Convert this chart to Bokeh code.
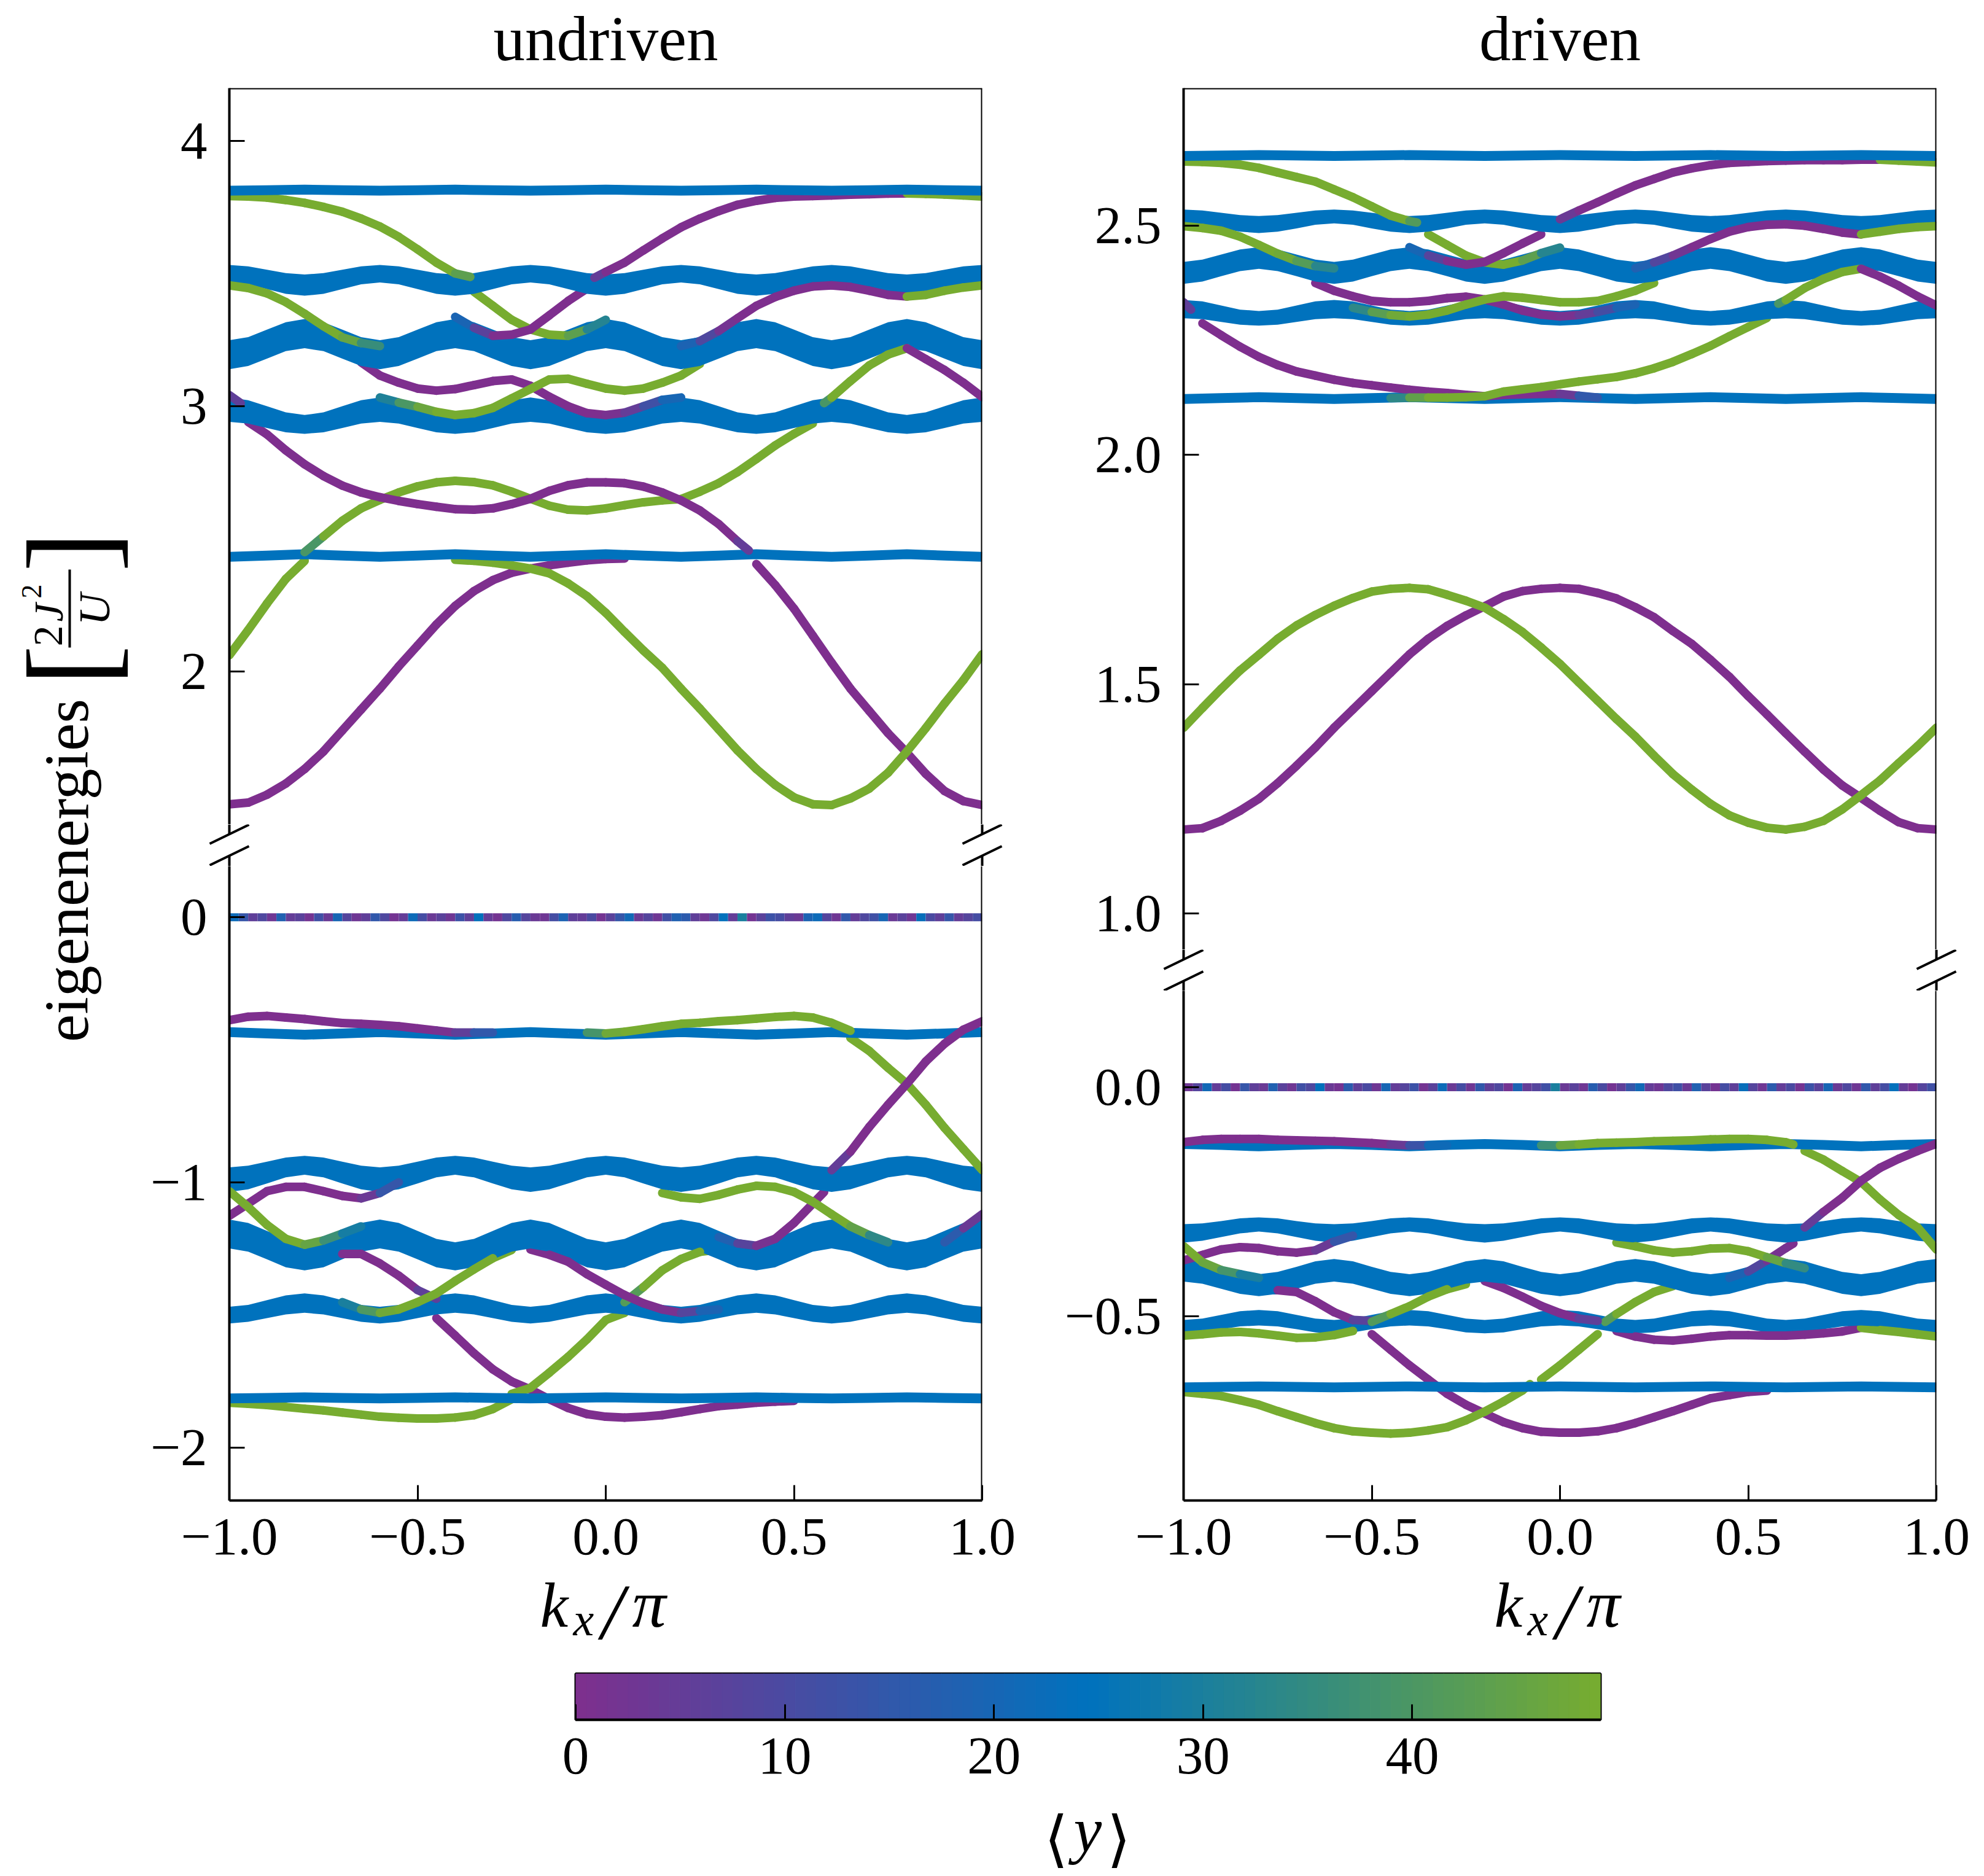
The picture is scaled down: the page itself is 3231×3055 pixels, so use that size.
from bokeh.embed import file_html
from bokeh.layouts import column, row
from bokeh.models import ColumnDataSource, FixedTicker, Label, LinearColorMapper, Range1d, Span
from bokeh.plotting import figure
from bokeh.resources import INLINE
import numpy as np

def span(a, b):
    return [round(a + 0.05 * i, 2) for i in range(int(round((b - a) / 0.05)) + 1)]

K = span(-1, 1)
K10 = [round(-1 + 0.1 * i, 1) for i in range(21)]

# colorbar
cb_ticks = [0, 10, 20, 30, 40]
cb_max = 49

# ---- undriven, upper part: thick bands (top and bottom edge)
lu_a_top = [3.533,3.528,3.515,3.502,3.497,3.502,3.515,3.528,3.533,3.528,3.515,3.502,3.497,3.502,3.515,3.528,3.533,3.528,3.515,3.502,3.497,3.502,3.515,3.528,3.533,3.528,3.515,3.502,3.497,3.502,3.515,3.528,3.533,3.528,3.515,3.502,3.497,3.502,3.515,3.528,3.533]
lu_a_bot = [3.467,3.460,3.442,3.424,3.417,3.424,3.442,3.460,3.467,3.460,3.442,3.424,3.417,3.424,3.442,3.460,3.467,3.460,3.442,3.424,3.417,3.424,3.442,3.460,3.467,3.460,3.442,3.424,3.417,3.424,3.442,3.460,3.467,3.460,3.442,3.424,3.417,3.424,3.442,3.460,3.467]
lu_b_top = [3.249,3.261,3.289,3.317,3.329,3.317,3.289,3.261,3.249,3.261,3.289,3.317,3.329,3.317,3.289,3.261,3.249,3.261,3.289,3.317,3.329,3.317,3.289,3.261,3.249,3.261,3.289,3.317,3.329,3.317,3.289,3.261,3.249,3.261,3.289,3.317,3.329,3.317,3.289,3.261,3.249]
lu_b_bot = [3.140,3.152,3.180,3.208,3.219,3.208,3.180,3.152,3.140,3.152,3.180,3.208,3.219,3.208,3.180,3.152,3.140,3.152,3.180,3.208,3.219,3.208,3.180,3.152,3.140,3.152,3.180,3.208,3.219,3.208,3.180,3.152,3.140,3.152,3.180,3.208,3.219,3.208,3.180,3.152,3.140]
lu_c_top = [3.033,3.023,3.000,2.977,2.967,2.977,3.000,3.023,3.033,3.023,3.000,2.977,2.967,2.977,3.000,3.023,3.033,3.023,3.000,2.977,2.967,2.977,3.000,3.023,3.033,3.023,3.000,2.977,2.967,2.977,3.000,3.023,3.033,3.023,3.000,2.977,2.967,2.977,3.000,3.023,3.033]
lu_c_bot = [2.941,2.935,2.918,2.902,2.896,2.902,2.918,2.935,2.941,2.935,2.918,2.902,2.896,2.902,2.918,2.935,2.941,2.935,2.918,2.902,2.896,2.902,2.918,2.935,2.941,2.935,2.918,2.902,2.896,2.902,2.918,2.935,2.941,2.935,2.918,2.902,2.896,2.902,2.918,2.935,2.941]
# flat bands
lu_f1 = [3.813,3.815,3.817,3.815,3.813,3.815,3.817,3.815,3.813,3.815,3.817,3.815,3.813,3.815,3.817,3.815,3.813,3.815,3.817,3.815,3.813]
lu_f2 = [2.432,2.437,2.442,2.437,2.432,2.437,2.442,2.437,2.432,2.437,2.442,2.437,2.432,2.437,2.442,2.437,2.432,2.437,2.442,2.437,2.432]
# edge states: k, energy, <y>
lu_g1a = (span(-1,-.4)+[-.36], [3.793,3.791,3.787,3.778,3.767,3.752,3.734,3.708,3.678,3.639,3.592,3.542,3.501,3.488], [49]*13+[38])
lu_g1b = (span(-.35,0), [3.432,3.379,3.326,3.290,3.270,3.266,3.290,3.326], [49]*6+[38,26])
lu_p1a = ([-.03]+span(0,.8), [3.485,3.507,3.542,3.588,3.633,3.675,3.708,3.736,3.760,3.775,3.786,3.791,3.793,3.795,3.798,3.800,3.802,3.803], [10]+[0]*17)
lu_g1c = (span(.8,1), [3.803,3.801,3.799,3.795,3.791], [49]*5)
lu_p1b = (span(-.4,-.05), [3.337,3.296,3.266,3.270,3.290,3.343,3.397,3.444], [25,14]+[0]*6)
lu_g2a = (span(-1,-.6), [3.456,3.446,3.426,3.393,3.349,3.302,3.260,3.239,3.227], [49]*7+[42,30])
lu_p2 = (span(.2,.8), [3.227,3.246,3.284,3.332,3.379,3.412,3.436,3.452,3.456,3.450,3.436,3.420,3.414], [24,14,4]+[0]*10)
lu_g2r = (span(.8,1), [3.414,3.420,3.436,3.448,3.456], [49]*5)
lu_p3 = (span(-.65,.2), [3.166,3.116,3.089,3.067,3.059,3.065,3.080,3.095,3.101,3.077,3.036,3.000,2.974,2.967,2.976,3.000,3.024,3.033], [0]*14+[2,8,16,24])
lu_g3 = (span(-.6,.25), [3.033,3.014,2.998,2.979,2.967,2.974,2.994,3.030,3.065,3.101,3.104,3.085,3.067,3.059,3.067,3.089,3.116,3.160], [26,36,44]+[49]*15)
lu_g4 = ([.58]+span(.6,.8), [3.012,3.033,3.095,3.154,3.195,3.219], [30]+[49]*5)
lu_g5 = (span(.2,.55), [2.650,2.678,2.710,2.752,2.801,2.852,2.896,2.935], [49]*8)
lu_pr = (span(.8,1), [3.219,3.178,3.137,3.089,3.035], [0]*5)
lu_p4a = ([-1,-.97], [3.042,3.012], [0,12])
lu_p4b = (span(-.95,.35)+[.38], [2.941,2.894,2.834,2.781,2.737,2.701,2.675,2.657,2.643,2.631,2.621,2.612,2.610,2.615,2.631,2.651,2.681,2.702,2.713,2.713,2.710,2.697,2.675,2.645,2.607,2.556,2.491,2.456], [0]*27+[10])
lu_gup = (span(-.8,.2), [2.450,2.509,2.568,2.615,2.647,2.675,2.698,2.713,2.719,2.714,2.702,2.678,2.651,2.625,2.610,2.607,2.615,2.627,2.638,2.645,2.650], [30]+[49]*20)
lu_pl = (span(-1,-.2), [1.499,1.505,1.535,1.577,1.632,1.698,1.777,1.856,1.935,2.019,2.098,2.177,2.247,2.303,2.344,2.372,2.388], [0]*17)
lu_pm = (span(-.2,.05), [2.388,2.400,2.410,2.419,2.424,2.426], [0]*6)
lu_pb = (span(.4,1), [2.405,2.326,2.237,2.135,2.033,1.935,1.851,1.767,1.693,1.614,1.549,1.511,1.496], [0]*13)
lu_gl = (span(-1,-.8), [2.061,2.156,2.256,2.349,2.417], [49]*5)
lu_gm = (span(-.4,-.2), [2.421,2.417,2.410,2.400,2.388], [49]*5)
lu_gb = (span(-.2,1), [2.388,2.370,2.332,2.284,2.221,2.149,2.079,2.014,1.935,1.860,1.781,1.702,1.632,1.572,1.525,1.499,1.496,1.521,1.558,1.618,1.698,1.786,1.879,1.967,2.065], [49]*25)

# ---- undriven, lower part
ll_a_top = [-.943,-.937,-.922,-.906,-.900,-.906,-.922,-.937,-.943,-.937,-.922,-.906,-.900,-.906,-.922,-.937,-.943,-.937,-.922,-.906,-.900,-.906,-.922,-.937,-.943,-.937,-.922,-.906,-.900,-.906,-.922,-.937,-.943,-.937,-.922,-.906,-.900,-.906,-.922,-.937,-.943]
ll_a_bot = [-1.036,-1.026,-1.004,-.981,-.971,-.981,-1.004,-1.026,-1.036,-1.026,-1.004,-.981,-.971,-.981,-1.004,-1.026,-1.036,-1.026,-1.004,-.981,-.971,-.981,-1.004,-1.026,-1.036,-1.026,-1.004,-.981,-.971,-.981,-1.004,-1.026,-1.036,-1.026,-1.004,-.981,-.971,-.981,-1.004,-1.026,-1.036]
ll_b_top = [-1.140,-1.153,-1.183,-1.213,-1.226,-1.213,-1.183,-1.153,-1.140,-1.153,-1.183,-1.213,-1.226,-1.213,-1.183,-1.153,-1.140,-1.153,-1.183,-1.213,-1.226,-1.213,-1.183,-1.153,-1.140,-1.153,-1.183,-1.213,-1.226,-1.213,-1.183,-1.153,-1.140,-1.153,-1.183,-1.213,-1.226,-1.213,-1.183,-1.153,-1.140]
ll_b_bot = [-1.249,-1.261,-1.290,-1.320,-1.332,-1.320,-1.290,-1.261,-1.249,-1.261,-1.290,-1.320,-1.332,-1.320,-1.290,-1.261,-1.249,-1.261,-1.290,-1.320,-1.332,-1.320,-1.290,-1.261,-1.249,-1.261,-1.290,-1.320,-1.332,-1.320,-1.290,-1.261,-1.249,-1.261,-1.290,-1.320,-1.332,-1.320,-1.290,-1.261,-1.249]
ll_c_top = [-1.469,-1.462,-1.444,-1.426,-1.419,-1.426,-1.444,-1.462,-1.469,-1.462,-1.444,-1.426,-1.419,-1.426,-1.444,-1.462,-1.469,-1.462,-1.444,-1.426,-1.419,-1.426,-1.444,-1.462,-1.469,-1.462,-1.444,-1.426,-1.419,-1.426,-1.444,-1.462,-1.469,-1.462,-1.444,-1.426,-1.419,-1.426,-1.444,-1.462,-1.469]
ll_c_bot = [-1.532,-1.526,-1.512,-1.498,-1.492,-1.498,-1.512,-1.526,-1.532,-1.526,-1.512,-1.498,-1.492,-1.498,-1.512,-1.526,-1.532,-1.526,-1.512,-1.498,-1.492,-1.498,-1.512,-1.526,-1.532,-1.526,-1.512,-1.498,-1.492,-1.498,-1.512,-1.526,-1.532,-1.526,-1.512,-1.498,-1.492,-1.498,-1.512,-1.526,-1.532]
ll_f1 = [-.433,-.438,-.443,-.438,-.433,-.438,-.443,-.438,-.433,-.438,-.443,-.438,-.433,-.438,-.443,-.438,-.433,-.438,-.443,-.438,-.433]
ll_f2 = [-1.815,-1.813,-1.811,-1.813,-1.815,-1.813,-1.811,-1.813,-1.815,-1.813,-1.811,-1.813,-1.815,-1.813,-1.811,-1.813,-1.815,-1.813,-1.811,-1.813,-1.815]
ll_zero_c = [22,14,6,9,3,18,5,7,2,12,4,20,8,3,6,15,9,2,5,22,11,4,7,3,13,6,24,5,2,9,17,8,4,3,11,19,6,5,10,2,7,14,21,4,8,3,12,18,16,6,3,9,24,5,30,2,7,13,11,6,4,19,22,8,3,15,5,9,12,20,4,7,3,23,10,6,14,5,8,11]
ll_pt = (span(-1,-.3), [-.388,-.375,-.372,-.378,-.384,-.392,-.399,-.402,-.406,-.411,-.419,-.427,-.435,-.435,-.435], [0]*12+[2,10,20])
ll_gt = (span(-.05,.65), [-.435,-.438,-.432,-.422,-.411,-.402,-.398,-.392,-.388,-.382,-.376,-.372,-.378,-.398,-.428], [32,46]+[49]*13)
ll_gd = (span(.65,1), [-.455,-.504,-.568,-.628,-.707,-.794,-.874,-.953], [49]*8)
ll_pu = (span(.6,1), [-.954,-.884,-.791,-.707,-.628,-.544,-.477,-.424,-.392], [10]+[0]*8)
ll_pm = (span(.3,.55)+[.58], [-1.206,-1.230,-1.239,-1.213,-1.153,-1.080,-1.036], [24,12,3,0,0,0,0])
ll_pa = (span(-1,-.55), [-1.126,-1.080,-1.033,-1.017,-1.017,-1.033,-1.051,-1.060,-1.040,-1.000], [0]*8+[8,20])
ll_ga = (span(-1,-.65), [-1.033,-1.093,-1.160,-1.213,-1.235,-1.219,-1.193,-1.166], [49]*5+[42,32,26])
ll_pd = (span(-.75,-.45), [-1.273,-1.270,-1.270,-1.306,-1.352,-1.406,-1.439], [6,0,0,0,0,0,12])
ll_pb = (span(-.45,.5), [-1.512,-1.578,-1.645,-1.705,-1.751,-1.781,-1.818,-1.851,-1.874,-1.884,-1.887,-1.884,-1.878,-1.867,-1.855,-1.844,-1.838,-1.831,-1.827,-1.824], [0]*20)
ll_gb = (span(-1,-.25), [-1.831,-1.835,-1.840,-1.847,-1.854,-1.860,-1.868,-1.876,-1.884,-1.888,-1.891,-1.891,-1.887,-1.878,-1.855,-1.818], [49]*16)
ll_gu = (span(-.25,.05), [-1.798,-1.775,-1.718,-1.658,-1.592,-1.519,-1.492], [49]*7)
ll_gv = (span(.05,.3), [-1.452,-1.395,-1.332,-1.289,-1.262,-1.253], [35]+[49]*5)
ll_gw = (span(-.7,-.25), [-1.452,-1.479,-1.492,-1.479,-1.452,-1.419,-1.372,-1.328,-1.286,-1.255], [25,35,46]+[49]*7)
ll_px = (span(-.2,.3), [-1.253,-1.273,-1.299,-1.346,-1.386,-1.425,-1.456,-1.479,-1.492,-1.485,-1.479], [0]*8+[2,14,24])
ll_gr = (span(.15,.75), [-1.040,-1.056,-1.062,-1.047,-1.027,-1.013,-1.017,-1.036,-1.073,-1.120,-1.166,-1.199,-1.226], [49]*11+[40,28])
ll_pr = (span(.9,1), [-1.226,-1.173,-1.120], [24,8,0])

# ---- driven, upper part
ru_a_top = [2.535,2.533,2.528,2.523,2.521,2.523,2.528,2.533,2.535,2.533,2.528,2.523,2.521,2.523,2.528,2.533,2.535,2.533,2.528,2.523,2.521,2.523,2.528,2.533,2.535,2.533,2.528,2.523,2.521,2.523,2.528,2.533,2.535,2.533,2.528,2.523,2.521,2.523,2.528,2.533,2.535]
ru_a_bot = [2.505,2.502,2.494,2.487,2.484,2.487,2.494,2.502,2.505,2.502,2.494,2.487,2.484,2.487,2.494,2.502,2.505,2.502,2.494,2.487,2.484,2.487,2.494,2.502,2.505,2.502,2.494,2.487,2.484,2.487,2.494,2.502,2.505,2.502,2.494,2.487,2.484,2.487,2.494,2.502,2.505]
ru_b_top = [2.421,2.426,2.437,2.448,2.453,2.448,2.437,2.426,2.421,2.426,2.437,2.448,2.453,2.448,2.437,2.426,2.421,2.426,2.437,2.448,2.453,2.448,2.437,2.426,2.421,2.426,2.437,2.448,2.453,2.448,2.437,2.426,2.421,2.426,2.437,2.448,2.453,2.448,2.437,2.426,2.421]
ru_b_bot = [2.373,2.378,2.390,2.401,2.406,2.401,2.390,2.378,2.373,2.378,2.390,2.401,2.406,2.401,2.390,2.378,2.373,2.378,2.390,2.401,2.406,2.401,2.390,2.378,2.373,2.378,2.390,2.401,2.406,2.401,2.390,2.378,2.373,2.378,2.390,2.401,2.406,2.401,2.390,2.378,2.373]
ru_c_top = [2.338,2.335,2.326,2.317,2.314,2.317,2.326,2.335,2.338,2.335,2.326,2.317,2.314,2.317,2.326,2.335,2.338,2.335,2.326,2.317,2.314,2.317,2.326,2.335,2.338,2.335,2.326,2.317,2.314,2.317,2.326,2.335,2.338,2.335,2.326,2.317,2.314,2.317,2.326,2.335,2.338]
ru_c_bot = [2.298,2.296,2.290,2.284,2.282,2.284,2.290,2.296,2.298,2.296,2.290,2.284,2.282,2.284,2.290,2.296,2.298,2.296,2.290,2.284,2.282,2.284,2.290,2.296,2.298,2.296,2.290,2.284,2.282,2.284,2.290,2.296,2.298,2.296,2.290,2.284,2.282,2.284,2.290,2.296,2.298]
ru_f1 = [2.652,2.653,2.654,2.653,2.652,2.653,2.654,2.653,2.652,2.653,2.654,2.653,2.652,2.653,2.654,2.653,2.652,2.653,2.654,2.653,2.652]
ru_f2 = [2.122,2.124,2.126,2.124,2.122,2.124,2.126,2.124,2.122,2.124,2.126,2.124,2.122,2.124,2.126,2.124,2.122,2.124,2.126,2.124,2.122]
ru_g1a = (span(-1,-.4)+[-.38], [2.640,2.639,2.637,2.633,2.626,2.616,2.606,2.596,2.579,2.562,2.542,2.522,2.510,2.507], [49]*13+[34])
ru_g1b = (span(-.35,0), [2.481,2.458,2.435,2.420,2.415,2.424,2.440,2.452], [49]*6+[38,27])
ru_p1a = (span(0,.85), [2.514,2.533,2.551,2.570,2.588,2.602,2.616,2.625,2.632,2.637,2.639,2.641,2.642,2.643,2.643,2.643,2.644,2.644], [8]+[0]*17)
ru_g1c = (span(.85,1), [2.644,2.642,2.640,2.638], [49]*4)
ru_p1b = (span(-.4,-.05), [2.453,2.435,2.423,2.415,2.421,2.440,2.461,2.481], [25,15]+[0]*6)
ru_g2a = (span(-1,-.6), [2.499,2.495,2.489,2.476,2.458,2.439,2.423,2.412,2.407], [49]*6+[46,38,28])
ru_p2 = (span(.2,.8), [2.407,2.420,2.435,2.453,2.471,2.487,2.497,2.502,2.503,2.500,2.493,2.485,2.481], [24,12,5]+[0]*10)
ru_g2r = (span(.8,1), [2.481,2.487,2.493,2.497,2.499], [49]*5)
ru_p3 = (span(-.65,.2), [2.375,2.358,2.346,2.336,2.333,2.333,2.336,2.342,2.345,2.339,2.328,2.315,2.306,2.302,2.305,2.312,2.321,2.328], [0]*14+[2,8,14,24])
ru_g3 = (span(-.55,.25), [2.321,2.312,2.305,2.302,2.306,2.315,2.328,2.339,2.346,2.343,2.338,2.333,2.333,2.336,2.346,2.358,2.375], [28,40,46]+[49]*14)
ru_p4a = ([-1,-.98], [2.333,2.317], [0,12])
ru_p4b = (span(-.95,.1), [2.287,2.261,2.236,2.214,2.196,2.182,2.173,2.164,2.157,2.152,2.147,2.142,2.138,2.135,2.131,2.128,2.131,2.132,2.133,2.133,2.129,2.125], [0]*20+[8,22])
ru_gb = (span(-.45,.55), [2.124,2.125,2.125,2.125,2.126,2.128,2.138,2.143,2.148,2.154,2.160,2.165,2.170,2.178,2.189,2.203,2.220,2.238,2.259,2.279,2.299], [28,40]+[49]*19)
ru_gu = ([.58]+span(.6,.8), [2.330,2.338,2.364,2.384,2.399,2.406], [30]+[49]*5)
ru_pr = (span(.8,1), [2.406,2.389,2.369,2.346,2.326], [0]*5)
ru_pbig = (K, [1.183,1.186,1.202,1.224,1.250,1.284,1.322,1.362,1.405,1.445,1.485,1.525,1.565,1.599,1.627,1.650,1.670,1.691,1.703,1.708,1.710,1.708,1.699,1.687,1.668,1.646,1.616,1.588,1.553,1.516,1.474,1.434,1.393,1.353,1.314,1.279,1.252,1.224,1.199,1.186,1.183], [0]*41)
ru_gbig = (K, [1.405,1.448,1.490,1.530,1.564,1.599,1.628,1.651,1.671,1.688,1.702,1.708,1.710,1.707,1.695,1.682,1.667,1.642,1.614,1.580,1.544,1.504,1.464,1.424,1.386,1.344,1.304,1.270,1.239,1.214,1.198,1.187,1.183,1.189,1.202,1.227,1.258,1.290,1.328,1.365,1.405], [49]*41)

# ---- driven, lower part
rl_a_top = [-.299,-.297,-.292,-.286,-.284,-.286,-.292,-.297,-.299,-.297,-.292,-.286,-.284,-.286,-.292,-.297,-.299,-.297,-.292,-.286,-.284,-.286,-.292,-.297,-.299,-.297,-.292,-.286,-.284,-.286,-.292,-.297,-.299,-.297,-.292,-.286,-.284,-.286,-.292,-.297,-.299]
rl_a_bot = [-.339,-.335,-.327,-.319,-.315,-.319,-.327,-.335,-.339,-.335,-.327,-.319,-.315,-.319,-.327,-.335,-.339,-.335,-.327,-.319,-.315,-.319,-.327,-.335,-.339,-.335,-.327,-.319,-.315,-.319,-.327,-.335,-.339,-.335,-.327,-.319,-.315,-.319,-.327,-.335,-.339]
rl_b_top = [-.375,-.380,-.392,-.403,-.408,-.403,-.392,-.380,-.375,-.380,-.392,-.403,-.408,-.403,-.392,-.380,-.375,-.380,-.392,-.403,-.408,-.403,-.392,-.380,-.375,-.380,-.392,-.403,-.408,-.403,-.392,-.380,-.375,-.380,-.392,-.403,-.408,-.403,-.392,-.380,-.375]
rl_b_bot = [-.424,-.429,-.440,-.451,-.456,-.451,-.440,-.429,-.424,-.429,-.440,-.451,-.456,-.451,-.440,-.429,-.424,-.429,-.440,-.451,-.456,-.451,-.440,-.429,-.424,-.429,-.440,-.451,-.456,-.451,-.440,-.429,-.424,-.429,-.440,-.451,-.456,-.451,-.440,-.429,-.424]
rl_c_top = [-.508,-.505,-.497,-.489,-.486,-.489,-.497,-.505,-.508,-.505,-.497,-.489,-.486,-.489,-.497,-.505,-.508,-.505,-.497,-.489,-.486,-.489,-.497,-.505,-.508,-.505,-.497,-.489,-.486,-.489,-.497,-.505,-.508,-.505,-.497,-.489,-.486,-.489,-.497,-.505,-.508]
rl_c_bot = [-.537,-.535,-.528,-.522,-.520,-.522,-.528,-.535,-.537,-.535,-.528,-.522,-.520,-.522,-.528,-.535,-.537,-.535,-.528,-.522,-.520,-.522,-.528,-.535,-.537,-.535,-.528,-.522,-.520,-.522,-.528,-.535,-.537,-.535,-.528,-.522,-.520,-.522,-.528,-.535,-.537]
rl_f1 = [-.124,-.126,-.129,-.126,-.124,-.126,-.129,-.126,-.124,-.126,-.129,-.126,-.124,-.126,-.129,-.126,-.124,-.126,-.129,-.126,-.124]
rl_f2 = [-.655,-.654,-.653,-.654,-.655,-.654,-.653,-.654,-.655,-.654,-.653,-.654,-.655,-.654,-.653,-.654,-.655,-.654,-.653,-.654,-.655]
rl_zero_c = [3,8,21,5,11,2,14,6,4,18,7,3,12,9,24,4,2,16,6,10,3,20,5,8,13,2,7,22,4,11,3,15,6,9,2,19,5,8,12,30,4,7,3,17,10,2,6,14,21,5,3,9,12,4,18,7,2,11,6,23,8,3,16,5,10,2,13,7,20,4,9,3,15,6,11,24,5,2,8,12]
rl_pt = (span(-1,-.3), [-.120,-.115,-.113,-.113,-.113,-.115,-.116,-.117,-.118,-.120,-.122,-.125,-.127,-.127,-.127], [0]*12+[8,18,25])
rl_gt = (span(-.05,.6)+[.62], [-.127,-.127,-.125,-.122,-.121,-.120,-.118,-.117,-.116,-.114,-.113,-.113,-.115,-.120,-.125], [30,44]+[49]*13)
rl_gd = (span(.65,1), [-.139,-.158,-.183,-.207,-.245,-.279,-.306,-.354], [49]*8)
rl_pu = (span(.65,1), [-.306,-.272,-.241,-.204,-.176,-.156,-.139,-.123], [10]+[0]*7)
rl_pm = (span(.45,.6)+[.62], [-.416,-.402,-.378,-.351,-.341], [24,14,3,0,0])
rl_gm = (span(.15,.65), [-.339,-.347,-.356,-.361,-.358,-.352,-.351,-.358,-.371,-.384,-.395], [49]*9+[42,28])
rl_pa = (span(-1,-.55), [-.378,-.366,-.354,-.349,-.351,-.358,-.361,-.356,-.337,-.324], [0]*8+[8,20])
rl_ga = ([-1]+span(-.95,-.8), [-.347,-.382,-.399,-.408,-.416], [49,49,44,34,26])
rl_pd = (span(-.8,-.5), [-.443,-.443,-.447,-.467,-.491,-.508,-.510], [0]*6+[14])
rl_pb = (span(-.5,.55), [-.539,-.573,-.607,-.638,-.669,-.693,-.712,-.731,-.744,-.752,-.754,-.754,-.751,-.744,-.733,-.720,-.707,-.693,-.679,-.672,-.665,-.662], [0]*22)
rl_gb = (span(-1,-.1)+[-.08], [-.665,-.669,-.674,-.683,-.693,-.707,-.720,-.733,-.744,-.751,-.754,-.756,-.754,-.749,-.742,-.727,-.708,-.686,-.662,-.648], [49]*20)
rl_gu = (span(-.05,.1), [-.638,-.607,-.573,-.539], [49]*4)
rl_gv = ([.12]+span(.15,.3), [-.512,-.495,-.469,-.447,-.434], [35,49,49,49,49])
rl_gw = (span(-.5,-.25), [-.512,-.495,-.478,-.457,-.441,-.430], [34]+[49]*5)
rl_px = (span(-.2,.1), [-.423,-.438,-.457,-.477,-.493,-.505,-.510], [0]*6+[12])
rl_py = (span(.15,.8), [-.532,-.544,-.551,-.553,-.549,-.544,-.541,-.541,-.542,-.542,-.540,-.537,-.533,-.525], [0]*14)
rl_gl = (span(-1,-.55), [-.542,-.539,-.535,-.534,-.537,-.542,-.547,-.546,-.541,-.532], [49]*10)
rl_gc = (span(.8,1), [-.525,-.530,-.534,-.539,-.544], [49]*5)

FONT = "Liberation Serif"
BLUE = "#0072BD"
FW = 1226


def ramp(a, b, n):
    a = np.array(a)
    b = np.array(b)
    out = []
    for t in np.linspace(0, 1, n):
        r, g, bl = (a + (b - a) * t).round().astype(int)
        out.append("#%02x%02x%02x" % (r, g, bl))
    return out


palette = ramp((126, 47, 142), (0, 114, 189), 128) + ramp((0, 114, 189), (119, 172, 48), 128)
mapper = LinearColorMapper(palette=palette, low=0, high=cb_max)


def put(p, left, bottom, px, py, text, size, style="normal", angle=0, align="left", base="alphabetic", font=FONT):
    # px, py are page positions, left and bottom the page position of the frame corner
    p.add_layout(Label(x=px - left, y=bottom - py, x_units="screen", y_units="screen", text=text,
                       text_font=font, text_font_size=f"{size}px", text_font_style=style, text_color="black",
                       angle=angle, angle_units="deg", text_align=align, text_baseline=base))


def strip(width, height):
    s = figure(width=width, height=height, x_range=Range1d(0, width), y_range=Range1d(0, height),
               toolbar_location=None, output_backend="svg", x_axis_location=None, y_axis_location=None,
               outline_line_color=None, min_border=0)
    s.grid.visible = False
    return s


def gap_strip(width, height, spines, upper_end, lower_start):
    # the strip between two parts of a panel: spine pieces and the two slashes of the broken axis
    s = strip(width, height)
    x0, y0, x1, y1 = [], [], [], []
    for xs in spines:
        for a, b, c, d in [(xs, height, xs, height - upper_end), (xs, height - lower_start, xs, 0),
                           (xs - 32, height - upper_end - 15.5, xs + 32, height - upper_end + 15.5),
                           (xs - 32, height - lower_start - 15.5, xs + 32, height - lower_start + 15.5)]:
            x0.append(a); y0.append(b); x1.append(c); y1.append(d)
    s.segment(x0, y0, x1, y1, line_color="black", line_width=4)
    return s


def draw_edges(p, sections, width=14):
    x0, y0, x1, y1, c = [], [], [], [], []
    for ks, ys, cs in sections:
        for i in range(len(ks) - 1):
            x0.append(ks[i]); x1.append(ks[i + 1])
            y0.append(ys[i]); y1.append(ys[i + 1])
            c.append((cs[i] + cs[i + 1]) / 2)
    src = ColumnDataSource(dict(x0=x0, y0=y0, x1=x1, y1=y1, c=c))
    p.segment("x0", "y0", "x1", "y1", source=src, line_width=width, line_cap="round",
              line_color={"field": "c", "transform": mapper})


def split(sections, hide_head, hide_tail):
    # ends that run in under a band go below it, the rest stays on top
    under, over = [], []
    for s in sections:
        a, b = 0, len(s[0])
        if any(s is h for h in hide_head):
            under.append(tuple(v[:2] for v in s))
            a = 1
        if any(s is h for h in hide_tail):
            under.append(tuple(v[-2:] for v in s))
            b -= 1
        over.append(tuple(v[a:b] for v in s))
    return under, over


def panel(h, ylim, yticks, ylabels, bottom_axis, border_left, is_upper):
    p = figure(frame_width=FW, frame_height=h, x_range=Range1d(-1, 1), y_range=Range1d(*ylim),
               toolbar_location=None, output_backend="svg", outline_line_color=None,
               x_axis_location="below" if bottom_axis else None, y_axis_location="left",
               min_border_left=border_left, min_border_right=60,
               min_border_top=4 if is_upper else 0, min_border_bottom=0 if is_upper else 127)
    p.grid.visible = False
    axes = [p.yaxis[0]] + ([p.xaxis[0]] if bottom_axis else [])
    for ax in axes:
        ax.axis_line_color = "black"
        ax.axis_line_width = 4
        ax.major_tick_in = 25
        ax.major_tick_out = 0
        ax.major_tick_line_width = 3
        ax.minor_tick_line_color = None
        ax.major_label_text_font = FONT
        ax.major_label_text_font_size = "87px"
        ax.major_label_text_color = "black"
        ax.major_label_standoff = 30
    p.yaxis[0].major_label_standoff = 36
    p.yaxis[0].ticker = FixedTicker(ticks=yticks)
    p.yaxis[0].major_label_overrides = dict(zip(yticks, ylabels))
    p.yaxis[0].major_label_orientation = "horizontal"
    if bottom_axis:
        p.xaxis[0].ticker = FixedTicker(ticks=[-1, -0.5, 0, 0.5, 1])
        p.xaxis[0].major_label_overrides = {-1: "\u22121.0", -0.5: "\u22120.5", 0: "0.0", 0.5: "0.5", 1: "1.0"}
    p.add_layout(Span(location=1, dimension="height", line_color="black", line_width=4))
    if is_upper:
        p.add_layout(Span(location=ylim[1], dimension="width", line_color="black", line_width=4))
    return p


def bands(p, pairs):
    for top, bot in pairs:
        p.varea(K, top, bot, fill_color=BLUE)


def flats(p, lines):
    for ys in lines:
        p.line(K10, ys, line_width=16, line_color=BLUE)


def zero_line(p, cs):
    xs = np.linspace(-1, 1, len(cs) + 1)
    src = ColumnDataSource(dict(x0=xs[:-1], x1=xs[1:], y=[0] * len(cs), c=cs))
    p.segment("x0", "y", "x1", "y", source=src, line_width=13, line_color={"field": "c", "transform": mapper})


def xlabel(p, bottom, x0):
    put(p, 0, bottom, x0, 2613, "k", 103, "italic")
    put(p, 0, bottom, x0 + 54, 2636, "x", 76, "italic")
    put(p, 0, bottom, x0 + 100, 2624, "/", 130, "italic")
    put(p, 0, bottom, x0 + 150, 2611, "\u03c0", 110, "italic")


# ---- titles
titles = strip(3215, 139)
put(titles, 0, 139, 986, 62, "undriven", 103, align="center")
put(titles, 0, 139, 2540, 62, "driven", 103, align="center")

# ---- undriven
lu = panel(1199, (1.423, 4.2), [2, 3, 4], ["2", "3", "4"], False, 158, True)
lu_under, lu_over = split([lu_g1a, lu_g1b, lu_p1a, lu_g1c, lu_p1b, lu_g2a, lu_p2, lu_g2r, lu_p3, lu_g3, lu_g4, lu_g5, lu_pr,
                           lu_p4a, lu_pl, lu_pm, lu_pb, lu_gl, lu_gm, lu_gb, lu_gup, lu_p4b],
                          [lu_g1b, lu_p3, lu_p4b], [lu_p1b, lu_g3, lu_g5])
draw_edges(lu, lu_under)
bands(lu, [(lu_a_top, lu_a_bot), (lu_b_top, lu_b_bot), (lu_c_top, lu_c_bot)])
draw_edges(lu, lu_over[:-2])
flats(lu, [lu_f1, lu_f2])
draw_edges(lu, lu_over[-2:])

gap_l = gap_strip(1444, 68, [158, 158 + FW], 16, 51)

ll = panel(1033, (-2.2, 0.193), [0, -1, -2], ["0", "\u22121", "\u22122"], True, 158, False)
ll_under, ll_over = split([ll_gd, ll_pm, ll_pa, ll_ga, ll_pd, ll_pb, ll_gb, ll_gu, ll_gv, ll_gw, ll_px, ll_gr, ll_pr],
                          [ll_pd, ll_pb, ll_px, ll_gr], [ll_pm, ll_gu, ll_gv, ll_gw])
draw_edges(ll, ll_under)
bands(ll, [(ll_a_top, ll_a_bot), (ll_b_top, ll_b_bot), (ll_c_top, ll_c_bot)])
draw_edges(ll, ll_over)
flats(ll, [ll_f1, ll_f2])
draw_edges(ll, [ll_pt, ll_gt, ll_pu])
zero_line(ll, ll_zero_c)

# ---- driven
ru = panel(1403, (0.921, 2.8), [1.0, 1.5, 2.0, 2.5], ["1.0", "1.5", "2.0", "2.5"], False, 268, True)
ru_under, ru_over = split([ru_g1a, ru_g1b, ru_p1a, ru_g1c, ru_p1b, ru_g2a, ru_p2, ru_g2r, ru_p3, ru_g3, ru_p4a, ru_gu, ru_pr,
                           ru_pbig, ru_gbig, ru_p4b, ru_gb],
                          [ru_g1b, ru_p3, ru_p4b], [ru_p1b, ru_g3, ru_gb])
draw_edges(ru, ru_under)
bands(ru, [(ru_a_top, ru_a_bot), (ru_b_top, ru_b_bot), (ru_c_top, ru_c_bot)])
draw_edges(ru, ru_over[:-2])
flats(ru, [ru_f1, ru_f2])
draw_edges(ru, ru_over[-2:])

gap_r = gap_strip(1554, 67, [268, 268 + FW], 16, 51)

rl = panel(830, (-0.902, 0.2105), [0, -0.5], ["0.0", "\u22120.5"], True, 268, False)
rl_under, rl_over = split([rl_gd, rl_pm, rl_gm, rl_pa, rl_ga, rl_pd, rl_pb, rl_gb, rl_gu, rl_gv, rl_gw, rl_px, rl_py, rl_gl, rl_gc],
                          [rl_gm, rl_pd, rl_pb, rl_px, rl_py, rl_gc], [rl_pm, rl_gu, rl_gv, rl_gw, rl_py])
draw_edges(rl, rl_under)
bands(rl, [(rl_a_top, rl_a_bot), (rl_b_top, rl_b_bot), (rl_c_top, rl_c_bot)])
draw_edges(rl, rl_over)
flats(rl, [rl_f1, rl_f2])
draw_edges(rl, [rl_pt, rl_gt, rl_pu])
zero_line(rl, rl_zero_c)

# ---- y label strip
yl = strip(215, 2431)
yb = 2570
put(yl, 0, yb, 108, 1417, "eigenenergies", 102, angle=90, align="center")
put(yl, 0, yb, 113, 1083, "[", 200, angle=90, align="center", base="middle", font="DejaVu Sans ExtraLight")
put(yl, 0, yb, 113, 898, "]", 200, angle=90, align="center", base="middle", font="DejaVu Sans ExtraLight")
put(yl, 0, yb, 78, 1052, "2", 68, angle=90)
put(yl, 0, yb, 78, 1012, "J", 68, "italic", angle=90)
put(yl, 0, yb, 51, 974, "2", 46, angle=90)
put(yl, 0, yb, 153, 1018, "U", 72, "italic", angle=90)
yl.segment([113], [yb - 1054], [113], [yb - 927], line_color="black", line_width=4)

# ---- x labels
xl = strip(3215, 110)
xlabel(xl, 2680, 879)
xlabel(xl, 2680, 2433)

# ---- colorbar
cb = figure(frame_width=1669, frame_height=75, x_range=Range1d(0, cb_max), y_range=Range1d(0, 1),
            toolbar_location=None, output_backend="svg", y_axis_location=None, outline_line_color="black",
            outline_line_width=4, min_border_left=937, min_border_right=100, min_border_top=45,
            min_border_bottom=127)
cb.grid.visible = False
edges = np.linspace(0, cb_max, 99)
cb_src = ColumnDataSource(dict(l=edges[:-1], r=edges[1:], c=(edges[:-1] + edges[1:]) / 2))
cb.quad(left="l", right="r", bottom=0, top=1, source=cb_src, fill_color={"field": "c", "transform": mapper},
        line_color={"field": "c", "transform": mapper})
cb.xaxis[0].ticker = FixedTicker(ticks=cb_ticks)
cb.xaxis[0].axis_line_width = 4
cb.xaxis[0].major_tick_in = 25
cb.xaxis[0].major_tick_out = 0
cb.xaxis[0].major_tick_line_width = 3
cb.xaxis[0].minor_tick_line_color = None
cb.xaxis[0].major_label_text_font = FONT
cb.xaxis[0].major_label_text_font_size = "87px"
cb.xaxis[0].major_label_text_color = "black"
cb.xaxis[0].major_label_standoff = 30

cl = strip(3215, 123)
put(cl, 0, 3050, 1700, 2994, "\u27e8", 100, font="DejaVu Serif")
put(cl, 0, 3050, 1748, 2979, "y", 103, "italic")
put(cl, 0, 3050, 1802, 2994, "\u27e9", 100, font="DejaVu Serif")

# figures directly in one column get their frames aligned, so strips go inside a row of their own
left_col = column(lu, row(gap_l), ll, spacing=0)
right_col = column(ru, row(gap_r), rl, spacing=0)
layout = column(row(titles), row(yl, left_col, right_col, spacing=0), row(xl), row(cb), row(cl), spacing=0)
open("out.html", "w").write(file_html(layout, INLINE))
